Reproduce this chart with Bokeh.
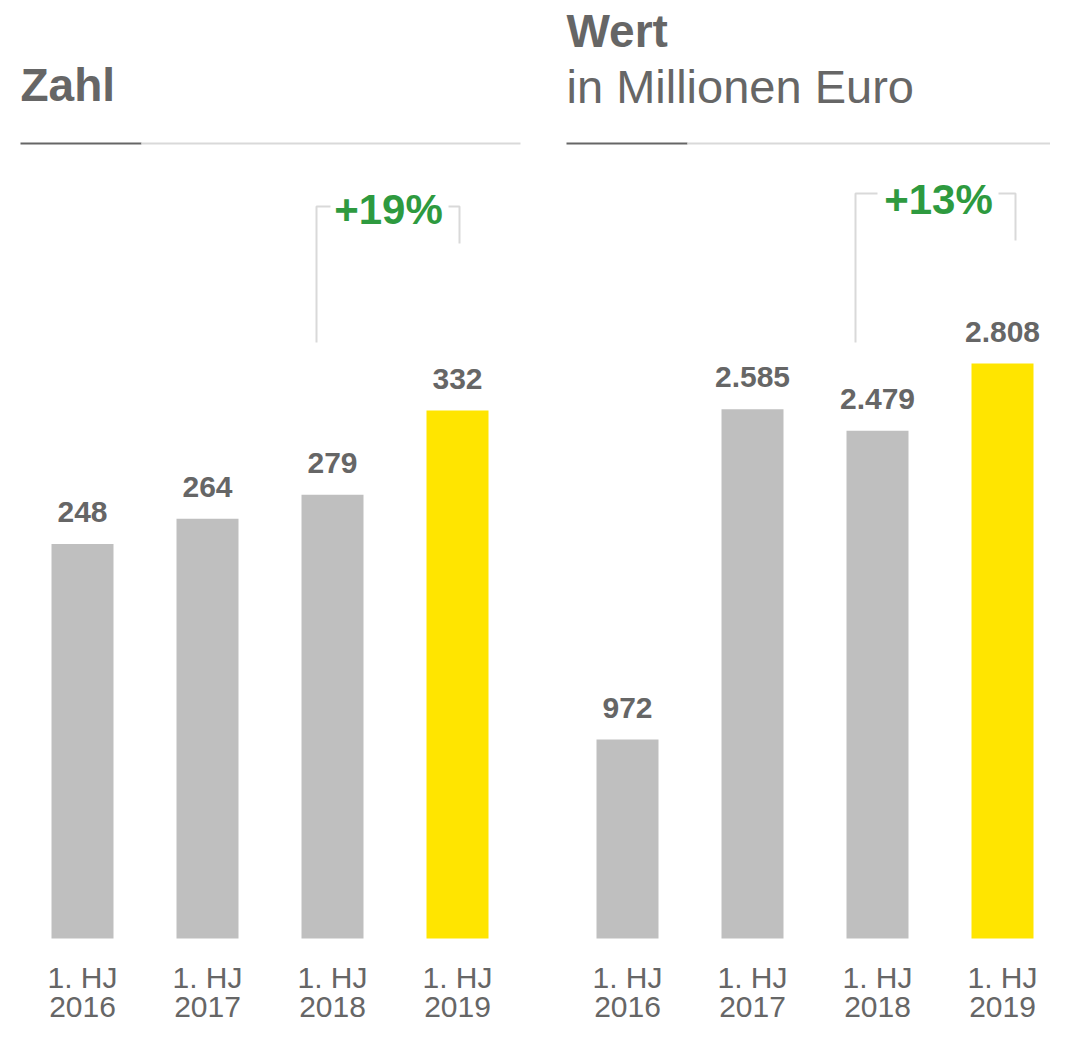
from bokeh.plotting import figure
from bokeh.layouts import row
from bokeh.models import Range1d
from bokeh.core.properties import value
from bokeh.embed import file_html
from bokeh.resources import INLINE

# ---------------- data ----------------
categories = ["1. HJ\n2016", "1. HJ\n2017", "1. HJ\n2018", "1. HJ\n2019"]
zahl_values = [248, 264, 279, 332]
wert_values = [972, 2585, 2479, 2808]
zahl_change = "+19%"
wert_change = "+13%"
zahl_title = "Zahl"
wert_title = "Wert"
wert_subtitle = "in Millionen Euro"

# ---------------- style ----------------
FONT = "Liberation Sans"
GREY_TEXT = "#666666"
BAR_GREY = "#bfbfbf"
BAR_YELLOW = "#ffe500"
GREEN = "#2e9a3f"
LIGHT = "#d9d9d9"

W, H = 525, 1027
BASE = 938      # bar baseline, px from top of figure
STEP = 125      # px between bar centres
BAR_W = 62
CAP = 0.19      # em distance from "top" to cap top


def fmt(v):
    return f"{v:,}".replace(",", ".")


def make_panel(values, first_center, top_px, title, subtitle, change,
               bracket, title_x):
    scale = (BASE - top_px) / max(values)

    def dx(fx):
        return (fx - first_center) / STEP

    def dy(fy):
        return (BASE - fy) / scale

    def top_of(cap_top, size):
        return dy(cap_top - CAP * size)

    p = figure(width=W, height=H, output_backend="svg", toolbar_location=None,
               x_axis_location=None, y_axis_location=None, min_border=0,
               x_range=Range1d(dx(0), dx(W)), y_range=Range1d(dy(H), dy(0)))
    p.outline_line_color = None
    p.grid.visible = False
    p.background_fill_color = "white"
    p.border_fill_color = "white"

    xs = list(range(len(values)))
    colors = [BAR_GREY] * (len(values) - 1) + [BAR_YELLOW]
    p.vbar(x=xs, top=values, bottom=0, width=BAR_W / STEP, color=colors,
           line_color=None)

    # value labels just above the bars
    label_y = [v + (36 + CAP * 30) / scale for v in values]
    p.text(x=xs, y=label_y, text=[fmt(v) for v in values],
           text_font=value(FONT), text_font_style="bold",
           text_font_size="30px", text_color=GREY_TEXT,
           text_align="center", text_baseline="top")

    # category labels, two lines
    line1 = [c.split("\n")[0] for c in categories]
    line2 = [c.split("\n")[1] for c in categories]
    p.text(x=xs, y=[top_of(BASE + 28, 30)] * len(xs), text=line1,
           text_font=value(FONT), text_font_size="30px",
           text_color=GREY_TEXT, text_align="center", text_baseline="top")
    p.text(x=xs, y=[top_of(BASE + 64, 30)] * len(xs), text=line2,
           text_font=value(FONT), text_font_size="30px",
           text_color=GREY_TEXT, text_align="center", text_baseline="top")

    # titles
    if subtitle:
        p.text(x=[dx(title_x)], y=[top_of(13.5, 46)], text=[title],
               text_font=value(FONT), text_font_style="bold",
               text_font_size="46px", text_color=GREY_TEXT,
               text_baseline="top")
        p.text(x=[dx(title_x)], y=[top_of(68.5, 47)], text=[subtitle],
               text_font=value(FONT), text_font_size="47px",
               text_color=GREY_TEXT, text_baseline="top")
    else:
        p.text(x=[dx(title_x)], y=[top_of(67, 46)], text=[title],
               text_font=value(FONT), text_font_style="bold",
               text_font_size="46px", text_color=GREY_TEXT,
               text_baseline="top")

    # title rule
    p.line(x=[dx(title_x), dx(title_x + 121)], y=[dy(143), dy(143)],
           line_color=GREY_TEXT, line_width=2)
    p.line(x=[dx(title_x + 121), dx(min(W, title_x + 500))],
           y=[dy(143), dy(143)], line_color=LIGHT, line_width=2)

    # change bracket
    lx, rx, top, lbot, rbot, gl, gr, tx, tcap = bracket
    p.line(x=[dx(lx), dx(lx), dx(gl)], y=[dy(lbot), dy(top), dy(top)],
           line_color=LIGHT, line_width=2)
    p.line(x=[dx(gr), dx(rx), dx(rx)], y=[dy(top), dy(top), dy(rbot)],
           line_color=LIGHT, line_width=2)
    p.text(x=[dx(tx)], y=[top_of(tcap, 42)], text=[change],
           text_font=value(FONT), text_font_style="bold",
           text_font_size="42px", text_color=GREEN,
           text_align="center", text_baseline="top")
    return p


p1 = make_panel(zahl_values, 82, 410, zahl_title, None, zahl_change,
                (316, 459, 206, 342, 243, 330, 448, 388, 193), 20)
p2 = make_panel(wert_values, 102, 363, wert_title, wert_subtitle,
                wert_change,
                (330, 490, 193, 342, 240, 352, 473, 413, 183), 41)

layout = row(p1, p2)
open("out.html", "w").write(file_html(layout, INLINE))
